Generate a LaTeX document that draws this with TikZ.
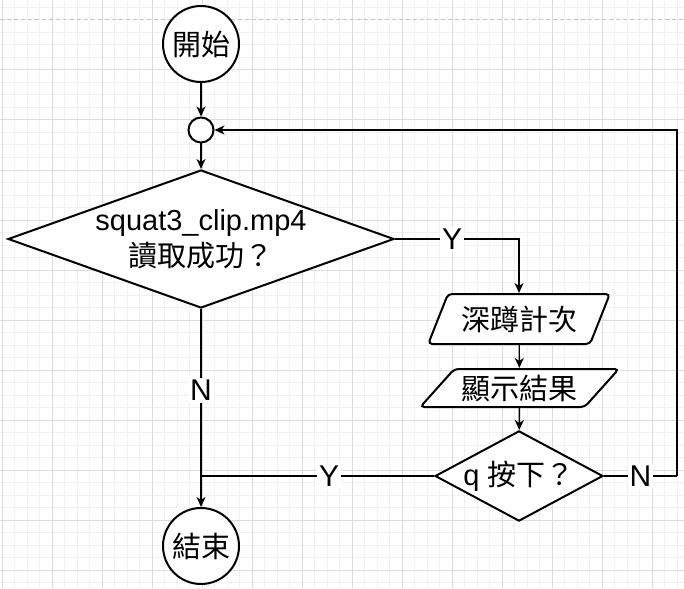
\documentclass[tikz,border=0pt]{standalone}
\usepackage{fontspec}
\setmainfont{Liberation Sans}
\newfontfamily\cjk{Noto Sans CJK TC}
\usepackage{tikz}
\usetikzlibrary{shapes.geometric,arrows.meta}
\definecolor{gridminor}{HTML}{F1F1F1}
\definecolor{gridmajor}{HTML}{DCDCDC}

\tikzset{
  terminal/.style={circle, draw, line width=2pt, fill=white, minimum size=76pt, inner sep=0pt},
  junction/.style={circle, draw, line width=2pt, fill=white, minimum size=25pt, inner sep=0pt},
  decision/.style={diamond, draw, line width=2pt, fill=white, inner sep=0pt, align=center},
  iobox/.style={trapezium, draw, line width=2pt, fill=white, inner sep=0pt,
    trapezium stretches=true, rounded corners=4pt},
  flowline/.style={line width=1.4pt, -{Stealth[length=10pt,width=9pt,inset=3pt]}},
  plainline/.style={line width=1.4pt},
  edgelabel/.style={fill=white, inner sep=2pt, font=\fontsize{30}{34}\selectfont}
}

\begin{document}
\begin{tikzpicture}[x=1pt, y=-1pt, font=\fontsize{29}{36}\selectfont]
  \useasboundingbox (0,0) rectangle (684,588);

  % background grid (minor every 12.5, major every 50)
  \foreach \gx in {2,14.5,...,684} \draw[gridminor, line width=1pt] (\gx,0) -- (\gx,588);
  \foreach \gy in {7.5,20,...,588} \draw[gridminor, line width=1pt] (0,\gy) -- (684,\gy);
  \foreach \gx in {2,52,...,684} \draw[gridmajor, line width=1pt] (\gx,0) -- (\gx,588);
  \foreach \gy in {70,120,...,588} \draw[gridmajor, line width=1pt] (0,\gy) -- (684,\gy);
  \draw[gray!45, line width=1pt, dash pattern=on 4pt off 3pt] (0,20) -- (684,20);

  % nodes
  \node[terminal] (start) at (201,44) {\cjk 開始};
  \node[junction] (merge) at (201,130) {};
  \node[decision, aspect=2.8, minimum width=386pt, minimum height=138pt] (readok) at (201,239)
    {squat3\_clip.mp4\\{\cjk 讀取成功？}};
  \node[iobox, trapezium left angle=59, trapezium right angle=121,
    minimum width=182pt, minimum height=50pt] (count) at (519,319) {\cjk 深蹲計次};
  \node[iobox, trapezium left angle=41.5, trapezium right angle=138.5,
    minimum width=199pt, minimum height=38pt] (show) at (519.5,388) {\cjk 顯示結果};
  \node[decision, aspect=1.86, minimum width=164pt, minimum height=88pt] (quit) at (519,476)
    {q {\cjk 按下？}};
  \node[terminal] (stop) at (201,546) {\cjk 結束};

  % connectors
  \draw[flowline] (start) -- (merge);
  \draw[flowline] (merge) -- (readok);
  \draw[flowline] (readok.east) -| node[edgelabel, pos=0.23] {Y} (count.north);
  \draw[flowline] (count) -- (show);
  \draw[flowline] (show) -- (quit);
  \draw[flowline] (readok.south) -- node[edgelabel, pos=0.41] {N} (stop.north);
  \draw[plainline] (quit.west) -- node[edgelabel, pos=0.45] {Y} (stop.north |- quit.west);

  % loop back when q is not pressed
  \coordinate (loopturn) at (677,476);
  \draw[plainline] (quit.east) -- node[edgelabel] {N} (loopturn);
  \draw[flowline] (loopturn) |- (merge.east);
\end{tikzpicture}
\end{document}
